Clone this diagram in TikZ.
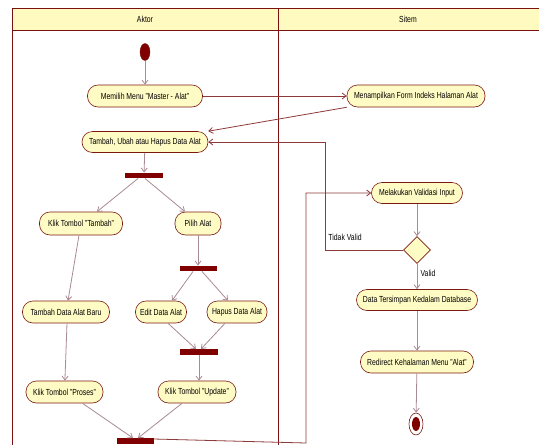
\documentclass[tikz,border=0pt]{standalone}
\usepackage{fontspec}
\setmainfont{Liberation Sans}[FakeStretch=0.78]
\usetikzlibrary{arrows.meta,shapes.geometric,calc}
\definecolor{laneline}{HTML}{7A1010}
\definecolor{headfill}{HTML}{FFFAC0}
\definecolor{actfill}{HTML}{FFFBC4}
\definecolor{actdraw}{HTML}{7A1A10}
\definecolor{barfill}{HTML}{800000}
\definecolor{flowcol}{HTML}{A88A92}
\definecolor{loopcol}{HTML}{8E3A3A}
\tikzset{
  act/.style={draw=actdraw, fill=actfill, rounded corners=10.5pt, line width=0.6pt,
    minimum height=22pt, inner sep=0pt, font=\fontsize{8.8}{10}\selectfont},
  syncbar/.style={draw=none, fill=barfill, minimum height=5.5pt, inner sep=0pt},
  flow/.style={draw=flowcol, line width=0.8pt, -{Straight Barb[length=4pt,width=6pt]}},
  loopflow/.style={draw=loopcol, line width=0.8pt, -{Straight Barb[length=4pt,width=6pt]}},
  guard/.style={font=\fontsize{8.8}{10}\selectfont, inner sep=0pt},
  lanetitle/.style={font=\fontsize{8.8}{10}\selectfont, inner sep=0pt}
}
\begin{document}
\begin{tikzpicture}[x=1pt,y=-1pt]
\useasboundingbox (0,0) rectangle (539,445);
\begin{scope}
\clip (0,0) rectangle (539,445);
% swimlane frame
\fill[white] (0,0) rectangle (539,445);
\fill[headfill] (12,8) rectangle (545,30);
\draw[laneline, line width=0.9pt] (12,452) -- (12,8) -- (545,8);
\draw[laneline, line width=0.9pt] (12,30) -- (545,30);
\draw[laneline, line width=0.9pt] (278,8) -- (278,452);
\end{scope}
\node[lanetitle] (laneA) at (145,19.5) {Aktor};
\node[lanetitle] (laneB) at (408,19.5) {Sitem};

% actor lane
\node[ellipse, fill=barfill, draw=actdraw, minimum width=10pt, minimum height=17pt, inner sep=0pt] (start) at (145,52) {};
\node[act, minimum width=115pt] (memilih) at (145,96) {Memilih Menu "Master - Alat"};
\node[act, minimum width=126pt, minimum height=21pt] (tambahubah) at (145,142) {Tambah, Ubah atau Hapus Data Alat};
\node[syncbar, minimum width=38pt] (bar1) at (144,175.5) {};
\node[act, minimum width=83pt, minimum height=23pt] (kliktambah) at (81,223.5) {Klik Tombol "Tambah"};
\node[act, minimum width=46pt, minimum height=23pt] (pilih) at (198,223.5) {Pilih Alat};
\node[syncbar, minimum width=37pt] (bar2) at (198,268.5) {};
\node[act, minimum width=87pt] (tambahbaru) at (66,312) {Tambah Data Alat Baru};
\node[act, minimum width=51pt] (edit) at (161,312) {Edit Data Alat};
\node[act, minimum width=60pt] (hapus) at (237,312) {Hapus Data Alat};
\node[syncbar, minimum width=38pt] (bar3) at (199,352) {};
\node[act, minimum width=77pt] (proses) at (64.5,392) {Klik Tombol "Proses"};
\node[act, minimum width=78pt] (update) at (197,392) {Klik Tombol "Update"};
\node[syncbar, minimum width=37pt] (bar4) at (135,441) {};

% system lane
\node[act, minimum width=138pt] (tampil) at (416,96) {Menampilkan Form Indeks Halaman Alat};
\node[act, minimum width=91pt, minimum height=21pt] (validasi) at (417,193) {Melakukan Validasi Input};
\node[diamond, draw=actdraw, fill=actfill, line width=0.6pt, minimum width=27pt, minimum height=27pt, inner sep=0pt] (cek) at (417,250) {};
\node[act, minimum width=121pt, minimum height=21pt] (simpan) at (417,300) {Data Tersimpan Kedalam Database};
\node[act, minimum width=113pt] (redirect) at (417,362) {Redirect Kehalaman Menu "Alat"};
\node[ellipse, draw=actdraw, fill=white, line width=0.6pt, minimum width=14pt, minimum height=22pt, inner sep=0pt] (finish) at (416,424) {};
\node[ellipse, fill=barfill, minimum width=8pt, minimum height=14pt, inner sep=0pt] (finishdot) at (416,424) {};

% connectors
\draw[flow] (start) -- (memilih);
\draw[loopflow] (memilih) -- (tampil);
\draw[loopflow] (tampil.south west) -- (tambahubah.north east);
\draw[flow] (tambahubah) -- (bar1);
\draw[flow] ([xshift=-6pt]bar1.south) -- ([xshift=16pt]kliktambah.north);
\draw[flow] ([xshift=1pt]bar1.south) -- ([xshift=-13pt]pilih.north);
\draw[flow] ([xshift=-2pt]kliktambah.south) -- ([xshift=2pt]tambahbaru.north);
\draw[flow] (pilih) -- (bar2);
\draw[flow] ([xshift=-5pt]bar2.south) -- ([xshift=11pt]edit.north);
\draw[flow] ([xshift=4pt]bar2.south) -- ([xshift=-9pt]hapus.north);
\draw[flow] ([xshift=7pt]edit.south) -- ([xshift=-3pt]bar3.north);
\draw[flow] ([xshift=-12pt]hapus.south) -- ([xshift=2pt]bar3.north);
\draw[flow] (bar3) -- ([xshift=2pt]update.north);
\draw[flow] ([xshift=1pt]tambahbaru.south) -- (proses);
\draw[flow] ([xshift=18pt]proses.south) -- ([xshift=-2pt]bar4.north);
\draw[flow] ([xshift=-15pt]update.south) -- ([xshift=3pt]bar4.north);
\draw[loopflow] ([yshift=2pt]bar4.east) -- (306,443) -- (306,193) -- (validasi.west);
\draw[flow] (validasi) -- (cek);
\draw[loopflow] (cek.west) -- (325,250) -- (325,142) -- (tambahubah.east);
\node[guard] (tidakvalid) at (345,237) {Tidak Valid};
\draw[flow] (cek) -- (simpan);
\node[guard] (valid) at (428,273) {Valid};
\draw[flow] (simpan) -- (redirect);
\draw[flow] (redirect) -- (finish);
\end{tikzpicture}
\end{document}
